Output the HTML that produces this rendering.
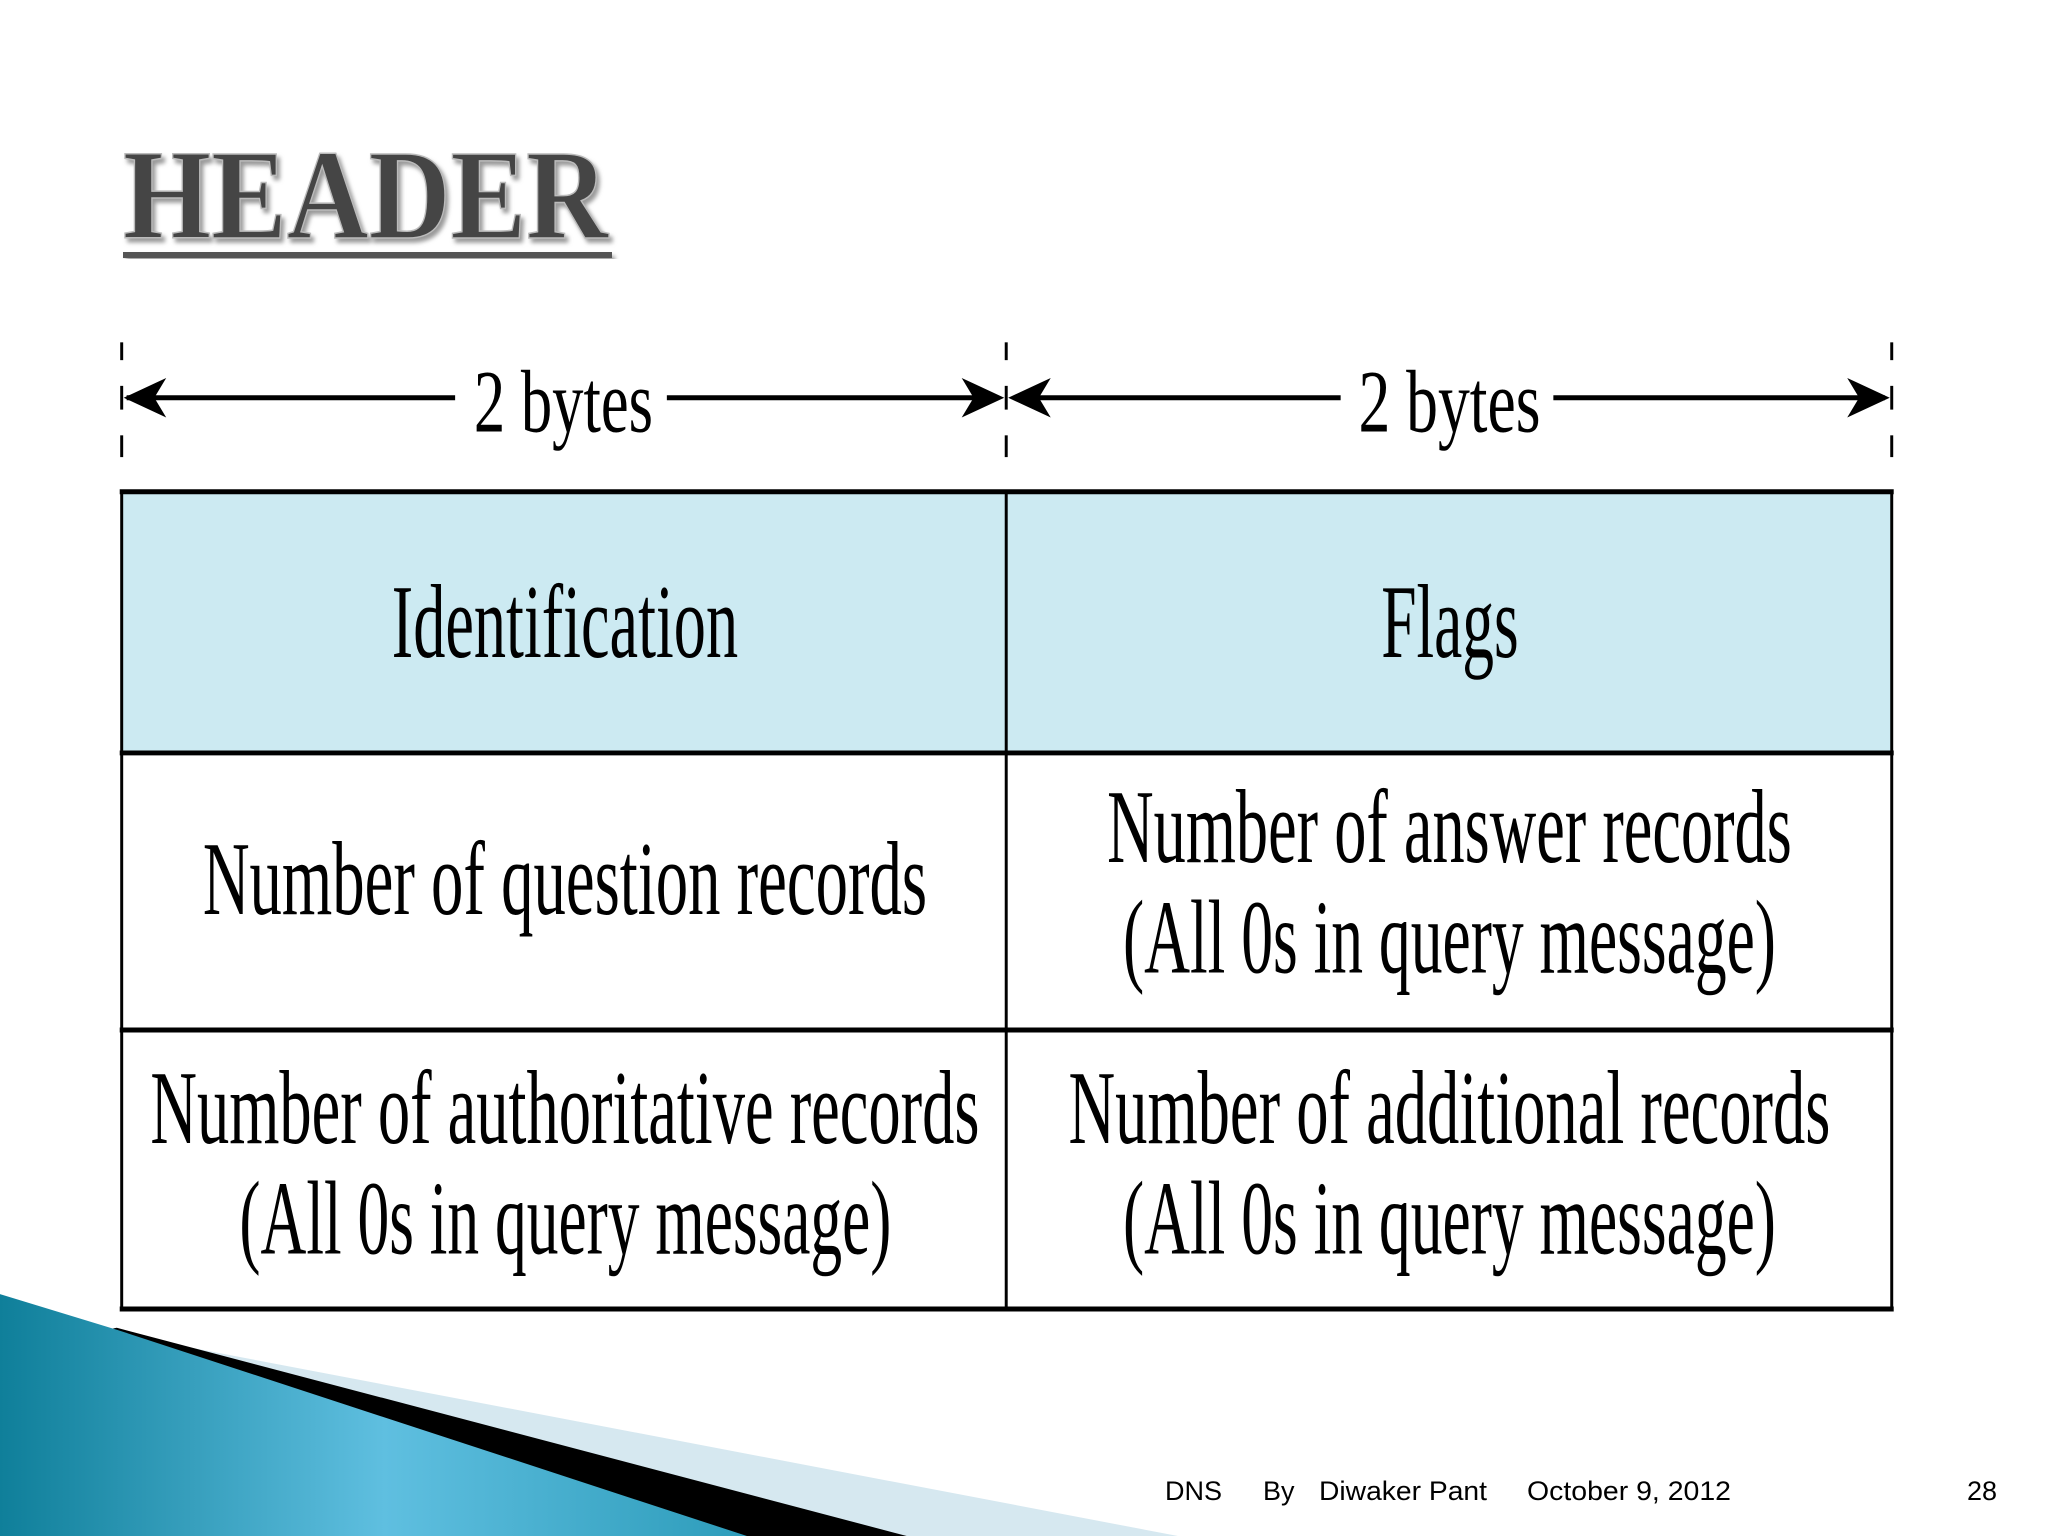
<!DOCTYPE html>
<html><head><meta charset="utf-8"><style>
html,body{margin:0;padding:0;background:#fff;}
svg{display:block;}
</style></head><body>
<svg width="2048" height="1536" viewBox="0 0 2048 1536" xmlns="http://www.w3.org/2000/svg">
<defs>
<linearGradient id="tg" x1="0" y1="0" x2="1" y2="0">
<stop offset="0" stop-color="#0f7f9a"/><stop offset="0.5" stop-color="#5fbfe0"/><stop offset="1" stop-color="#2a9ab8"/>
</linearGradient>
<filter id="sh" x="-5%" y="-5%" width="110%" height="120%"><feDropShadow dx="3" dy="4" stdDeviation="2" flood-color="#999"/></filter>
</defs>
<rect width="2048" height="1536" fill="#fff"/>
<!-- title -->
<text x="123" y="238" font-family="Liberation Serif, serif" font-weight="bold" font-size="128" fill="#444" stroke="#bbb" stroke-width="1.5" textLength="485" lengthAdjust="spacingAndGlyphs" filter="url(#sh)">HEADER</text>
<rect x="123" y="252" width="489" height="6" fill="#555" filter="url(#sh)"/>
<g transform="scale(0.9894)">
<!-- dashed ticks -->
<g stroke="#000" stroke-width="3">
<line x1="123" y1="346" x2="123" y2="364"/><line x1="123" y1="390" x2="123" y2="414"/><line x1="123" y1="440" x2="123" y2="462"/>
<line x1="1017" y1="346" x2="1017" y2="364"/><line x1="1017" y1="390" x2="1017" y2="414"/><line x1="1017" y1="440" x2="1017" y2="462"/>
<line x1="1912" y1="346" x2="1912" y2="364"/><line x1="1912" y1="390" x2="1912" y2="414"/><line x1="1912" y1="440" x2="1912" y2="462"/>
</g>
<g stroke="#000" stroke-width="5">
<line x1="128" y1="402" x2="460" y2="402"/>
<line x1="674" y1="402" x2="1005" y2="402"/>
<line x1="1030" y1="402" x2="1355" y2="402"/>
<line x1="1570" y1="402" x2="1905" y2="402"/>
</g>
<g fill="#000">
<polygon points="125,402 168,382 156,402 168,422"/>
<polygon points="1015,402 972,382 984,402 972,422"/>
<polygon points="1019,402 1062,382 1050,402 1062,422"/>
<polygon points="1910,402 1867,382 1879,402 1867,422"/>
</g>
<g font-family="Liberation Serif, serif" font-size="90" fill="#000">
<text x="479" y="436" textLength="181" lengthAdjust="spacingAndGlyphs">2 bytes</text>
<text x="1373" y="436" textLength="184" lengthAdjust="spacingAndGlyphs">2 bytes</text>
</g>
<!-- table -->
<rect x="123" y="497" width="1789" height="264" fill="#cceaf2"/>
<g stroke="#000" fill="none">
<rect x="123" y="497" width="1789" height="826" stroke-width="3"/>
<line x1="1017" y1="497" x2="1017" y2="1323" stroke-width="3"/>
<line x1="121" y1="497" x2="1914" y2="497" stroke-width="5"/>
<line x1="121" y1="761" x2="1914" y2="761" stroke-width="5"/>
<line x1="121" y1="1041" x2="1914" y2="1041" stroke-width="5"/>
<line x1="121" y1="1323" x2="1914" y2="1323" stroke-width="5"/>
</g>
<g font-family="Liberation Serif, serif" font-size="106" fill="#000">
<text x="396" y="664" textLength="350" lengthAdjust="spacingAndGlyphs">Identification</text>
<text x="1396" y="664" textLength="139" lengthAdjust="spacingAndGlyphs">Flags</text>
<text x="205" y="924" textLength="732" lengthAdjust="spacingAndGlyphs">Number of question records</text>
<text x="1119" y="871" textLength="692" lengthAdjust="spacingAndGlyphs">Number of answer records</text>
<text x="1135" y="983" textLength="660" lengthAdjust="spacingAndGlyphs">(All 0s in query message)</text>
<text x="152" y="1155" textLength="838" lengthAdjust="spacingAndGlyphs">Number of authoritative records</text>
<text x="242" y="1267" textLength="659" lengthAdjust="spacingAndGlyphs">(All 0s in query message)</text>
<text x="1080" y="1155" textLength="770" lengthAdjust="spacingAndGlyphs">Number of additional records</text>
<text x="1135" y="1267" textLength="660" lengthAdjust="spacingAndGlyphs">(All 0s in query message)</text>
</g>
<!-- decoration -->
<polygon points="140,1352 1230,1560 900,1560" fill="#d6e8f0"/>
<polygon points="118,1342 945,1560 770,1560 108,1344" fill="#000"/>
<polygon points="0,1308 118,1344 778,1560 0,1560" fill="url(#tg)"/>
</g>
<!-- footer -->
<g font-family="Liberation Sans, sans-serif" font-size="27" fill="#000">
<text x="1165" y="1500">DNS</text>
<text x="1263" y="1500">By</text>
<text x="1319" y="1500" textLength="168" lengthAdjust="spacingAndGlyphs">Diwaker Pant</text>
<text x="1527" y="1500" textLength="204" lengthAdjust="spacingAndGlyphs">October 9, 2012</text>
<text x="1967" y="1500">28</text>
</g>
</svg>
</body></html>
